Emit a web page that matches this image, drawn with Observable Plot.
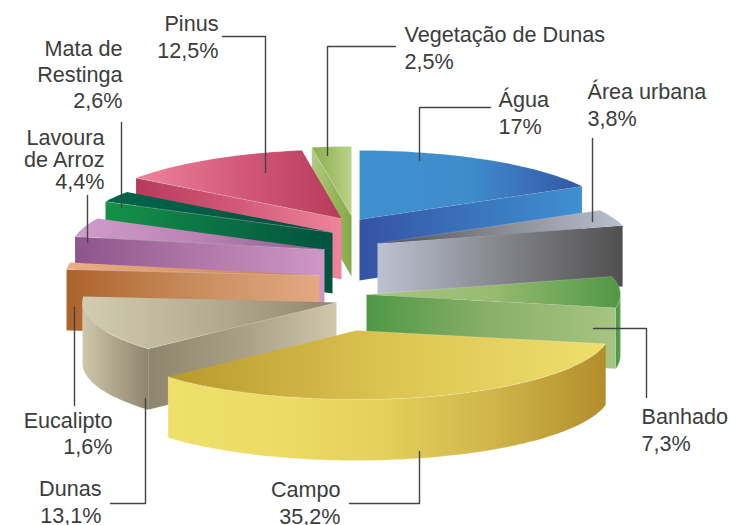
<!DOCTYPE html>
<html><head><meta charset="utf-8">
<style>html,body{margin:0;padding:0;background:#fff}svg{display:block}</style>
<script src="https://cdn.jsdelivr.net/npm/d3@7"></script>
<script src="https://cdn.jsdelivr.net/npm/@observablehq/plot@0.6"></script>
</head><body><div id="chart"></div>
<script>
// ---- data ----
const categories = ["Água","Área urbana","Banhado","Campo","Dunas","Eucalipto","Lavoura de Arroz","Mata de Restinga","Pinus","Vegetação de Dunas"];
const shares = [17,3.8,7.3,35.2,13.1,1.6,4.4,2.6,12.5,2.5];
const shareLabels = ["17%","3,8%","7,3%","35,2%","13,1%","1,6%","4,4%","2,6%","12,5%","2,5%"];
// ---- layout and style ----
const W = 734, H = 525, cx = 349, cy = 270, Rx = 254, Ry = 69, depth = 61, annotationShift = 1;
const explode = [[10,-51],[28,-27],[17,24],[7,60],[-13,32],[-30,5],[-25,-21],[-17,-38],[-8,-52],[2,-55]];
const drawOrder = [0,9,8,7,6,5,1,2,4,3];
const topColors = [
  ["#3f90cf","#3f8ccb","#3355a5"],["#4f4f4f","#8a8a90","#bbc0d0"],["#a8c583","#97ba70","#4f9845"],
  ["#b8982c","#dcc452","#eedf6c"],["#d2ccb0","#b5ad92","#8e856e"],["#e8ae86","#d89a6c","#c27a44"],
  ["#d19dc9","#bb82b3","#8f5a90"],["#00664a","#005a44","#004f3c"],["#ee849d","#d25a78","#b63a5c"],["#8aad4c","#a0bf68","#bad38c"]];
const cutColors = [
  ["#3552a4","#3a74bb","#3f90d0"],["#bcc2d2","#85868c","#505050"],["#4f9845","#8ab068","#a7c582"],
  null,["#8e856e","#a89f84","#cfc8ac"],["#ad632b","#c88c5c","#e3a982"],
  ["#8e548c","#b077a8","#cf97c5"],["#159246","#0a7044","#00523d"],["#b73a5c","#d25a78","#ef849c"],["#b0cc82","#99b85e","#86a948"]];
const rimColors = {2:["#4f9845","#4f9845","#6fa85e"],3:["#eee06b","#ecdc66","#e4cf5a","#cfb449","#b28e2b"],4:["#cfc8ac","#aea68c","#8e856e"]};
const cutSide = [1,1,1,null,0,0,0,0,0,0]; // which radial edge faces the viewer
const leaderOffsets = [
  [[59,-59],[59,-112],[130,-112]],[[214,-22],[214,-105]],[[226,34],[279,34],[279,103]],
  [[62,121],[62,173],[-8,173]],[[-192,96],[-192,201],[-227,201]],[[-246,32],[-246,130]],
  [[-238,-7],[-238,-54]],[[-212,-25],[-212,-110]],[[-77,-46],[-77,-182],[-120,-182]],[[-25,-60],[-25,-169],[43,-169]]];
// label: anchor, x offset from slice apex, first-line y offset, line step, name lines
const labelLayout = [
  ["start",138,-119,27,["Água"]],["start",209,-151,27,["Área urbana"]],["start",274,123,27,["Banhado"]],
  ["end",-17,160,27,["Campo"]],["end",-236,187,27,["Dunas"]],["end",-208,146,26,["Eucalipto"]],
  ["end",-221,-111,22,["Lavoura","de Arroz"]],["end",-211,-183,26,["Mata de","Restinga"]],["end",-124,-194,27,["Pinus"]],["start",52,-180,27,["Vegetação de Dunas"]]];

// ---- geometry derived from the shares ----
const total = d3.sum(shares);
const edges = d3.cumsum(shares).map(c => c / total * 2 * Math.PI);
const starts = [0, ...edges.slice(0,-1)];
const apex = i => [cx + explode[i][0], cy + explode[i][1]];
const rimPt = (i,a,dz=0) => { const [ax,ay] = apex(i); return {x: ax + Rx*Math.sin(a), y: ay - Ry*Math.cos(a) + dz}; };
const arc = (i,a,b,dz=0) => { const n = Math.max(2, Math.ceil(Math.abs(b-a)/0.02)); return d3.range(n+1).map(k => rimPt(i, a+(b-a)*k/n, dz)); };
const faces = [];
const gradients = [];
const grad = (id,stops) => { gradients.push({id,stops}); return `url(#${id})`; };
for (const i of drawOrder) {
  const a = starts[i], b = edges[i], [ax,ay] = apex(i), A = {x:ax,y:ay}, B = {x:ax,y:ay+depth};
  if (cutSide[i] !== null) {
    const e = cutSide[i] ? b : a;
    faces.push({fill: grad(`cut${i}`,cutColors[i]), pts:[A, rimPt(i,e), rimPt(i,e,depth), B]});
  }
  if (rimColors[i]) {
    const from = Math.max(a, Math.PI/2), to = Math.min(b, Math.PI*1.5);
    faces.push({fill: grad(`rim${i}`,rimColors[i]), pts:[...arc(i,from,to), ...arc(i,to,from,depth)]});
  }
  faces.push({fill: grad(`top${i}`,topColors[i]), pts:[A, ...arc(i,a,b)]});
}
const defs = () => {
  const d = d3.create("svg:defs");
  for (const g of gradients) {
    const lg = d.append("linearGradient").attr("id",g.id).attr("x1",0).attr("x2",1).attr("y1",0).attr("y2",0);
    g.stops.forEach((c,k) => lg.append("stop").attr("offset",k/(g.stops.length-1)).attr("stop-color",c));
  }
  return d.node();
};
const leaders = leaderOffsets.flatMap((path,i) => path.map(([dx,dy]) => ({i, x:apex(i)[0]+dx+annotationShift, y:apex(i)[1]+dy})));
const labels = labelLayout.flatMap(([anchor,dx,dy,step,lines],i) =>
  [...lines, shareLabels[i]].map((t,k) => ({t, anchor, x:apex(i)[0]+dx+annotationShift, y:apex(i)[1]+dy+k*step})));
const textMark = anchor => Plot.text(labels.filter(d => d.anchor===anchor), {
  x:"x", y:"y", text:"t", textAnchor:anchor, lineAnchor:"middle", fontSize:21.6, fill:"#3c3c3c",
  fontFamily:"'Liberation Sans',Arial,sans-serif"});

const chart = Plot.plot({
  width:W, height:H, margin:0,
  style:{background:"#fff"},
  x:{domain:[0,W], range:[0,W], axis:null},
  y:{domain:[0,H], range:[0,H], axis:null},
  marks:[
    defs,
    ...faces.map(f => Plot.line(f.pts, {x:"x", y:"y", fill:f.fill, stroke:"#fff", strokeOpacity:0.3, strokeWidth:0.5, curve:"linear"})),
    Plot.line(leaders, {x:"x", y:"y", z:"i", stroke:"#444", strokeWidth:1.4, curve:"linear"}),
    textMark("start"), textMark("end")
  ]
});
document.getElementById("chart").append(chart);
</script></body></html>
